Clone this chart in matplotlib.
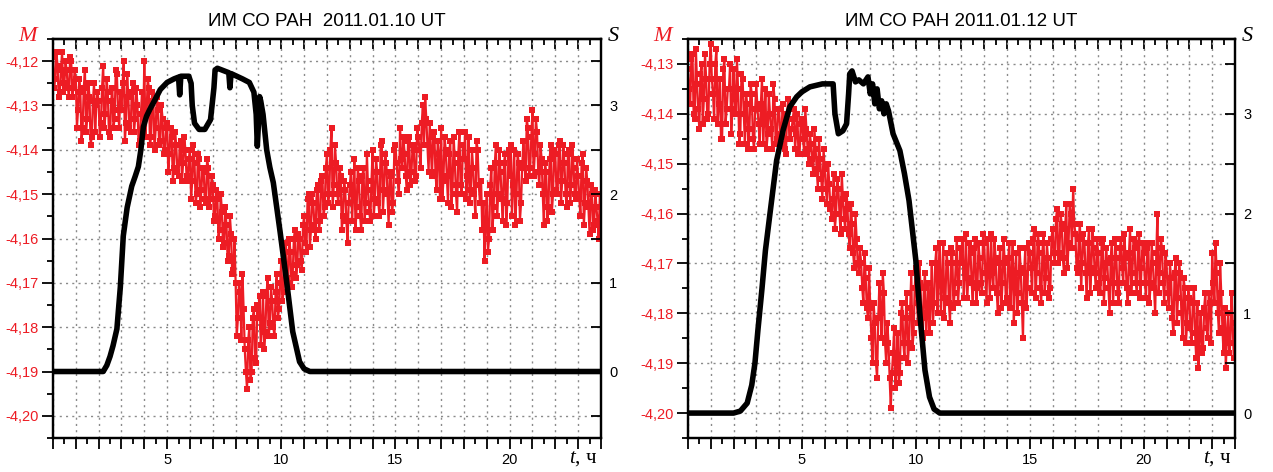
import numpy as np
import matplotlib
matplotlib.use('Agg')
import matplotlib.pyplot as plt
from matplotlib.ticker import MultipleLocator, FuncFormatter

plt.rcParams['font.family'] = ['Liberation Sans', 'DejaVu Sans']
plt.rcParams['mathtext.fontset'] = 'custom'
plt.rcParams['mathtext.it'] = 'Liberation Serif:italic'
plt.rcParams['mathtext.rm'] = 'Liberation Serif'

RED = '#ed1c24'

# time of red samples, hours: whole tenths (a) and the half-steps between them (b)
t_a = np.arange(240) / 10.0
t_b = t_a + 0.05

# M = -4 - m/1000 (thousandths)
m_0110_a = [
    119, 124, 121, 127, 118, 125, 122, 128, 120, 126,
    124, 131, 127, 135, 122, 133, 128, 137, 125, 130,
    129, 134, 121, 132, 127, 137, 126, 133, 123, 135,
    131, 120, 134, 128, 136, 125, 133, 130, 138, 127,
    120, 132, 126, 137, 129, 135, 131, 138, 133, 140,
    134, 141, 137, 144, 139, 146, 138, 143, 140, 147,
    140, 147, 143, 150, 142, 149, 145, 152, 144, 151,
    148, 155, 151, 158, 154, 161, 157, 164, 159, 167,
    170, 178, 172, 168, 185, 194, 180, 190, 176, 188,
    178, 184, 172, 181, 169, 179, 174, 182, 168, 176,
    165, 172, 161, 170, 163, 168, 158, 166, 160, 167,
    155, 163, 150, 158, 152, 160, 148, 156, 146, 153,
    141, 150, 135, 148, 143, 152, 146, 155, 149, 161,
    148, 156, 142, 153, 147, 158, 144, 152, 149, 156,
    140, 151, 145, 155, 138, 149, 143, 157, 146, 152,
    139, 147, 135, 144, 141, 149, 137, 145, 140, 146,
    137, 144, 130, 128, 139, 134, 146, 136, 149, 141,
    135, 147, 140, 152, 138, 148, 143, 154, 136, 150,
    142, 151, 137, 149, 144, 155, 140, 152, 158, 165,
    150, 160, 144, 153, 139, 150, 145, 156, 141, 152,
    146, 155, 140, 150, 143, 152, 138, 147, 135, 144,
    131, 141, 136, 148, 142, 157, 145, 153, 139, 150,
    141, 150, 138, 147, 143, 153, 140, 148, 144, 151,
    146, 155, 141, 152, 147, 159, 150, 157, 153, 160,
]
m_0110_b = [
    126, 118, 128, 122, 127, 120, 126, 119, 128, 122,
    135, 124, 138, 126, 136, 125, 139, 129, 136, 127,
    137, 126, 135, 124, 136, 129, 135, 122, 131, 127,
    125, 138, 123, 135, 127, 136, 126, 139, 132, 136,
    137, 124, 139, 127, 140, 128, 139, 130, 141, 135,
    145, 135, 147, 136, 145, 139, 147, 137, 146, 142,
    151, 139, 152, 141, 153, 144, 151, 142, 153, 146,
    156, 149, 160, 150, 162, 153, 165, 155, 168, 160,
    182, 170, 183, 176, 190, 183, 192, 178, 187, 175,
    173, 180, 185, 173, 182, 171, 180, 172, 178, 170,
    174, 163, 169, 160, 171, 160, 169, 159, 165, 157,
    161, 151, 162, 150, 157, 149, 158, 147, 155, 144,
    152, 140, 153, 139, 150, 144, 158, 147, 156, 152,
    145, 150, 158, 144, 155, 146, 156, 141, 154, 147,
    155, 142, 152, 139, 154, 141, 150, 145, 154, 140,
    143, 150, 142, 137, 146, 138, 148, 139, 147, 135,
    140, 134, 139, 133, 145, 140, 137, 145, 138, 151,
    151, 137, 146, 141, 153, 137, 150, 141, 148, 139,
    136, 146, 152, 140, 150, 138, 148, 147, 152, 156,
    163, 148, 158, 143, 155, 140, 151, 143, 157, 140,
    139, 148, 157, 141, 156, 144, 143, 133, 146, 137,
    146, 133, 145, 139, 150, 143, 156, 142, 154, 140,
    149, 139, 152, 139, 150, 141, 152, 139, 150, 142,
    151, 143, 157, 144, 153, 148, 158, 149, 156, 150,
]

m_0112_a = [
    131, 138, 128, 141, 134, 143, 130, 137, 133, 140,
    126, 136, 130, 142, 133, 145, 129, 139, 135, 144,
    131, 140, 135, 144, 133, 146, 138, 143, 136, 147,
    134, 142, 138, 146, 135, 144, 140, 147, 137, 145,
    139, 146, 142, 148, 137, 145, 141, 147, 140, 148,
    141, 148, 143, 150, 146, 152, 147, 155, 149, 157,
    151, 158, 154, 161, 152, 160, 155, 164, 157, 163,
    159, 167, 162, 171, 165, 172, 170, 178, 173, 181,
    179, 190, 182, 193, 174, 185, 176, 190, 186, 199,
    188, 195, 184, 192, 178, 189, 176, 186, 172, 184,
    171, 182, 174, 185, 172, 180, 184, 170, 178, 167,
    172, 180, 166, 177, 170, 182, 168, 176, 165, 174,
    170, 177, 164, 173, 168, 178, 165, 175, 169, 176,
    166, 178, 171, 164, 175, 169, 180, 167, 174, 170,
    177, 166, 173, 182, 168, 176, 171, 185, 167, 175,
    168, 176, 163, 172, 166, 178, 164, 173, 169, 175,
    163, 170, 159, 168, 162, 172, 158, 166, 160, 155,
    164, 172, 162, 170, 166, 177, 163, 171, 167, 175,
    168, 176, 165, 173, 170, 180, 166, 174, 169, 178,
    165, 174, 169, 178, 163, 172, 167, 176, 164, 171,
    168, 177, 166, 174, 170, 180, 160, 172, 167, 178,
    170, 179, 173, 184, 169, 177, 172, 185, 175, 182,
    177, 186, 175, 189, 191, 180, 187, 176, 185, 178,
    168, 178, 172, 184, 176, 188, 191, 180, 186, 182,
]
m_0112_b = [
    135, 129, 140, 127, 139, 132, 142, 128, 141, 130,
    133, 141, 127, 138, 145, 131, 142, 135, 130, 139,
    137, 129, 146, 132, 140, 136, 147, 134, 145, 139,
    139, 146, 133, 141, 147, 136, 143, 134, 146, 139,
    144, 138, 147, 140, 145, 143, 139, 144, 148, 142,
    145, 139, 147, 144, 149, 143, 151, 145, 153, 147,
    155, 150, 159, 157, 163, 153, 160, 152, 161, 156,
    164, 158, 168, 160, 170, 167, 175, 168, 179, 171,
    185, 178, 190, 181, 180, 172, 186, 182, 193, 192,
    183, 190, 194, 180, 186, 181, 190, 179, 187, 175,
    178, 170, 181, 175, 184, 174, 178, 182, 170, 180,
    166, 174, 181, 168, 178, 167, 179, 170, 178, 167,
    165, 172, 177, 166, 174, 167, 178, 166, 174, 164,
    172, 165, 177, 172, 165, 176, 170, 179, 165, 178,
    169, 179, 166, 172, 180, 167, 178, 172, 179, 166,
    171, 165, 177, 164, 175, 168, 176, 166, 177, 165,
    168, 161, 170, 160, 169, 163, 171, 158, 167, 162,
    171, 165, 175, 164, 172, 166, 176, 163, 172, 165,
    174, 166, 178, 167, 175, 169, 178, 165, 176, 167,
    171, 164, 175, 168, 176, 165, 174, 166, 177, 166,
    174, 167, 178, 166, 175, 168, 176, 165, 174, 168,
    176, 170, 181, 172, 182, 170, 180, 173, 186, 175,
    183, 178, 184, 178, 184, 188, 179, 183, 176, 186,
    174, 166, 180, 170, 183, 179, 184, 188, 176, 189,
]

# S curves
t_s_0110 = [0, 2.2, 2.36, 2.5, 2.63, 2.8, 2.95, 3.08, 3.25, 3.45, 3.6, 3.74,
            3.85, 3.96, 4.1, 4.25, 4.5, 4.7, 5.0, 5.3, 5.5, 5.55, 5.6, 5.95,
            6.05, 6.1, 6.2, 6.4, 6.65, 6.9, 7.05, 7.1, 7.2, 7.5, 7.7, 7.75,
            7.8, 8.3, 8.6, 8.8, 8.9, 8.95, 9.0, 9.05, 9.1, 9.2, 9.36, 9.5,
            9.65, 9.95, 10.24, 10.5, 10.8, 11.0, 11.25, 24]
s_0110 = [0, 0, 0.07, 0.17, 0.29, 0.48, 0.95, 1.53, 1.85, 2.09, 2.2, 2.31,
          2.5, 2.76, 2.88, 2.96, 3.08, 3.18, 3.26, 3.3, 3.32, 3.12, 3.33, 3.33,
          3.25, 3.0, 2.8, 2.73, 2.73, 2.84, 3.2, 3.4, 3.42, 3.39, 3.37, 3.2,
          3.36, 3.3, 3.26, 3.15, 2.9, 2.54, 2.8, 3.1, 3.05, 2.9, 2.5, 2.3,
          2.13, 1.57, 1.0, 0.45, 0.11, 0.03, 0, 0]

t_s_0112 = [0, 2.0, 2.3, 2.6, 2.8, 2.94, 3.07, 3.25, 3.4, 3.6, 3.89, 4.18,
            4.47, 4.77, 5.0, 5.35, 5.9, 6.37, 6.45, 6.6, 6.8, 6.96, 7.05, 7.1,
            7.2, 7.35, 7.5, 7.7, 7.9, 8.0, 8.1, 8.2, 8.3, 8.4, 8.5, 8.6, 8.7,
            8.8, 9.0, 9.3, 9.5, 9.7, 10.0, 10.2, 10.4, 10.6, 10.8, 11.05, 24]
s_0112 = [0, 0, 0.02, 0.1, 0.28, 0.5, 0.83, 1.25, 1.63, 2.0, 2.53, 2.84,
          3.07, 3.17, 3.22, 3.27, 3.3, 3.3, 3.0, 2.8, 2.83, 2.9, 3.2, 3.4,
          3.43, 3.32, 3.34, 3.3, 3.37, 3.2, 3.3, 3.1, 3.25, 3.05, 3.13, 3.0,
          3.1, 3.03, 2.8, 2.63, 2.4, 2.13, 1.53, 0.93, 0.43, 0.16, 0.04, 0, 0]

titles = ['ИМ СО РАН  2011.01.10 UT', 'ИМ СО РАН 2011.01.12 UT']
m_lims = [(-4.205, -4.115), (-4.205, -4.125)]
s_zero = [-4.19, -4.20]   # M level where S = 0 (S step 1 = 0.02 in M)

fig = plt.figure(figsize=(12.73, 4.72), dpi=100)
boxes = [[0.0416, 0.072, 0.4305, 0.8454], [0.5404, 0.072, 0.4297, 0.8454]]

panels = [(m_0110_a, m_0110_b, t_s_0110, s_0110),
          (m_0112_a, m_0112_b, t_s_0112, s_0112)]
for i, (ma, mb, ts, s) in enumerate(panels):
    ax = fig.add_axes(boxes[i])
    t = np.concatenate([t_a, t_b])
    m = np.concatenate([ma, mb])
    order = np.argsort(t)
    M = -4.0 - m[order] / 1000.0
    ax.plot(t[order], M, '-s', color=RED, lw=1.6, ms=3.8, mew=0, zorder=3)
    ax.set_xlim(0, 24)
    ax.set_ylim(*m_lims[i])

    ax.xaxis.set_major_locator(MultipleLocator(1))
    ax.xaxis.set_minor_locator(MultipleLocator(0.5))
    ax.xaxis.set_major_formatter(FuncFormatter(
        lambda v, p: str(int(round(v))) if 0 < v < 24 and round(v) % 5 == 0 else ''))
    ax.yaxis.set_major_locator(MultipleLocator(0.01))
    ax.yaxis.set_minor_locator(MultipleLocator(0.005))
    ax.yaxis.set_major_formatter(FuncFormatter(lambda v, p: f'{v:.2f}'.replace('.', ',')))

    ax.tick_params(axis='x', which='major', direction='out', length=8, width=1.3,
                   labelsize=10.5, pad=3, top=False)
    ax.tick_params(axis='x', which='minor', direction='out', length=4, width=1.3, top=False)
    ax.tick_params(axis='y', which='major', direction='out', length=8, width=1.3,
                   labelsize=10.5, labelcolor=RED, pad=2, right=False)
    ax.tick_params(axis='y', which='minor', direction='out', length=4, width=1.3, right=False)

    top = ax.secondary_xaxis('top')
    top.xaxis.set_major_locator(MultipleLocator(1))
    top.xaxis.set_minor_locator(MultipleLocator(0.5))
    top.tick_params(which='major', direction='in', length=7, width=1.3, labeltop=False)
    top.tick_params(which='minor', direction='in', length=4, width=1.3)
    top.spines['top'].set_linewidth(1.6)

    ax.grid(True, which='major', color='#8a8a8a', linestyle=(0, (1.5, 3)), lw=1)
    ax.set_axisbelow(True)
    for sp in ax.spines.values():
        sp.set_linewidth(1.6)

    ax2 = ax.twinx()
    lo, hi = m_lims[i]
    ax2.set_ylim((lo - s_zero[i]) / 0.02, (hi - s_zero[i]) / 0.02)
    ax2.plot(ts, s, color='black', lw=4, solid_capstyle='butt', zorder=4)
    ax2.yaxis.set_major_locator(MultipleLocator(1))
    ax2.yaxis.set_minor_locator(MultipleLocator(0.5))
    ax2.tick_params(axis='y', which='major', direction='in', length=7, width=1.3,
                    labelsize=10.5, pad=6)
    ax2.tick_params(axis='y', which='minor', direction='in', length=7, width=1.3)
    for sp in ax2.spines.values():
        sp.set_linewidth(1.6)

    ax.set_title(titles[i], fontsize=13.5, pad=9)
    ax.text(-0.047, 1.005, 'M', transform=ax.transAxes, ha='center', va='center',
            color=RED, fontsize=16, family='Liberation Serif', style='italic')
    ax.text(1.022, 1.005, 'S', transform=ax.transAxes, ha='center', va='center',
            color='black', fontsize=16, family='Liberation Serif', style='italic')
    ax.text(0.993, -0.052, r'$t$, ч', transform=ax.transAxes, ha='right', va='center',
            fontsize=15, family='Liberation Serif')

fig.savefig('out.png', dpi=100)
